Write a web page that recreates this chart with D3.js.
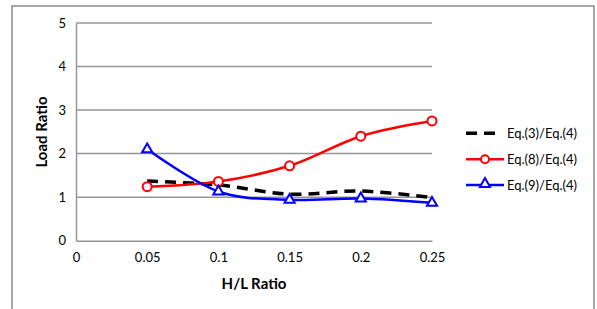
<!DOCTYPE html>
<html><head><meta charset="utf-8">
<script src="https://cdn.jsdelivr.net/npm/d3@7"></script>
<style>body{margin:0;background:#fff}svg{display:block}text{font-family:Lato,"Open Sans",sans-serif}</style>
</head><body><svg id="c" width="597" height="309"></svg>
<script>
const hl = [0.05, 0.1, 0.15, 0.2, 0.25];
const eq3 = [1.37, 1.28, 1.07, 1.14, 0.99];
const eq8 = [1.24, 1.36, 1.72, 2.40, 2.75];
const eq9 = [2.10, 1.13, 0.94, 0.97, 0.87];
const xTicks = [0, 0.05, 0.1, 0.15, 0.2, 0.25];
const xTickLabels = ["0", "0.05", "0.1", "0.15", "0.2", "0.25"];
const yTicks = [0, 1, 2, 3, 4, 5];
const seriesNames = ["Eq.(3)/Eq.(4)", "Eq.(8)/Eq.(4)", "Eq.(9)/Eq.(4)"];

const svg = d3.select("#c");
svg.append("rect").attr("x",12).attr("y",6).attr("width",582).attr("height",320)
  .attr("fill","none").attr("stroke","#898989").attr("stroke-width",1.5);

const x = d3.scaleLinear().domain([0,0.25]).range([76,432]);
const y = d3.scaleLinear().domain([0,5]).range([240.7,23]);

const g = svg.append("g");
g.selectAll("line.grid").data(yTicks.slice(1)).join("line")
  .attr("x1",x(0)).attr("x2",x(0.25)).attr("y1",d=>y(d)).attr("y2",d=>y(d))
  .attr("stroke","#969696").attr("stroke-width",1.5);

const yAxis = d3.axisLeft(y).tickValues(yTicks).tickSize(0).tickPadding(10).tickFormat(d3.format("d"));
const ya = svg.append("g").attr("transform",`translate(${x(0)},0)`).call(yAxis);
ya.select(".domain").attr("stroke","#969696").attr("stroke-width",1.5);
ya.selectAll("text").attr("font-size",13).attr("fill","#000");

const xAxis = d3.axisBottom(x).tickValues(xTicks).tickSize(0).tickPadding(12).tickFormat((d,i)=>xTickLabels[i]);
const xa = svg.append("g").attr("transform",`translate(0,${y(0)})`).call(xAxis);
xa.select(".domain").attr("stroke","#969696").attr("stroke-width",1.5);
xa.selectAll("text").attr("font-size",13).attr("fill","#000");

svg.append("text").attr("x",254).attr("y",289).attr("text-anchor","middle")
  .attr("font-size",15).attr("font-weight","bold").text("H/L Ratio");
svg.append("text").attr("transform","translate(47,132) rotate(-90)").attr("text-anchor","middle")
  .attr("font-size",15).attr("font-weight","bold").text("Load Ratio");

const line = d3.line().x((d,i)=>x(hl[i])).y(d=>y(d)).curve(d3.curveCatmullRom.alpha(0));

svg.append("path").datum(eq3).attr("d",line).attr("fill","none").attr("stroke","#000")
  .attr("stroke-width",3.5).attr("stroke-dasharray","11,7");
svg.append("path").datum(eq8).attr("d",line).attr("fill","none").attr("stroke","#ff0000").attr("stroke-width",2.5);
svg.append("path").datum(eq9).attr("d",line).attr("fill","none").attr("stroke","#0000ff").attr("stroke-width",2.5);

const tri = d3.symbol().type(d3.symbolTriangle).size(45);
svg.selectAll("circle.m8").data(eq8).join("circle")
  .attr("cx",(d,i)=>x(hl[i])).attr("cy",d=>y(d)).attr("r",4.5)
  .attr("fill","#fff").attr("stroke","#ff0000").attr("stroke-width",2);
svg.selectAll("path.m9").data(eq9).join("path").attr("class","m9")
  .attr("d",tri).attr("transform",(d,i)=>`translate(${x(hl[i])},${y(d)})`)
  .attr("fill","#fff").attr("stroke","#0000ff").attr("stroke-width",2);

const ly = [133.3, 159.3, 185];
const leg = svg.append("g");
leg.append("line").attr("x1",466).attr("x2",500).attr("y1",ly[0]).attr("y2",ly[0])
  .attr("stroke","#000").attr("stroke-width",3.5).attr("stroke-dasharray","11,7");
leg.append("line").attr("x1",466).attr("x2",504).attr("y1",ly[1]).attr("y2",ly[1])
  .attr("stroke","#ff0000").attr("stroke-width",2.5);
leg.append("circle").attr("cx",485).attr("cy",ly[1]).attr("r",4)
  .attr("fill","#fff").attr("stroke","#ff0000").attr("stroke-width",2);
leg.append("line").attr("x1",466).attr("x2",504).attr("y1",ly[2]).attr("y2",ly[2])
  .attr("stroke","#0000ff").attr("stroke-width",2.5);
leg.append("path").attr("d",tri).attr("transform",`translate(485,${ly[2]-1})`)
  .attr("fill","#fff").attr("stroke","#0000ff").attr("stroke-width",2);
leg.selectAll("text").data(seriesNames).join("text")
  .attr("x",507).attr("y",(d,i)=>ly[i]+4.5).attr("font-size",13).text(d=>d);
</script></body></html>
